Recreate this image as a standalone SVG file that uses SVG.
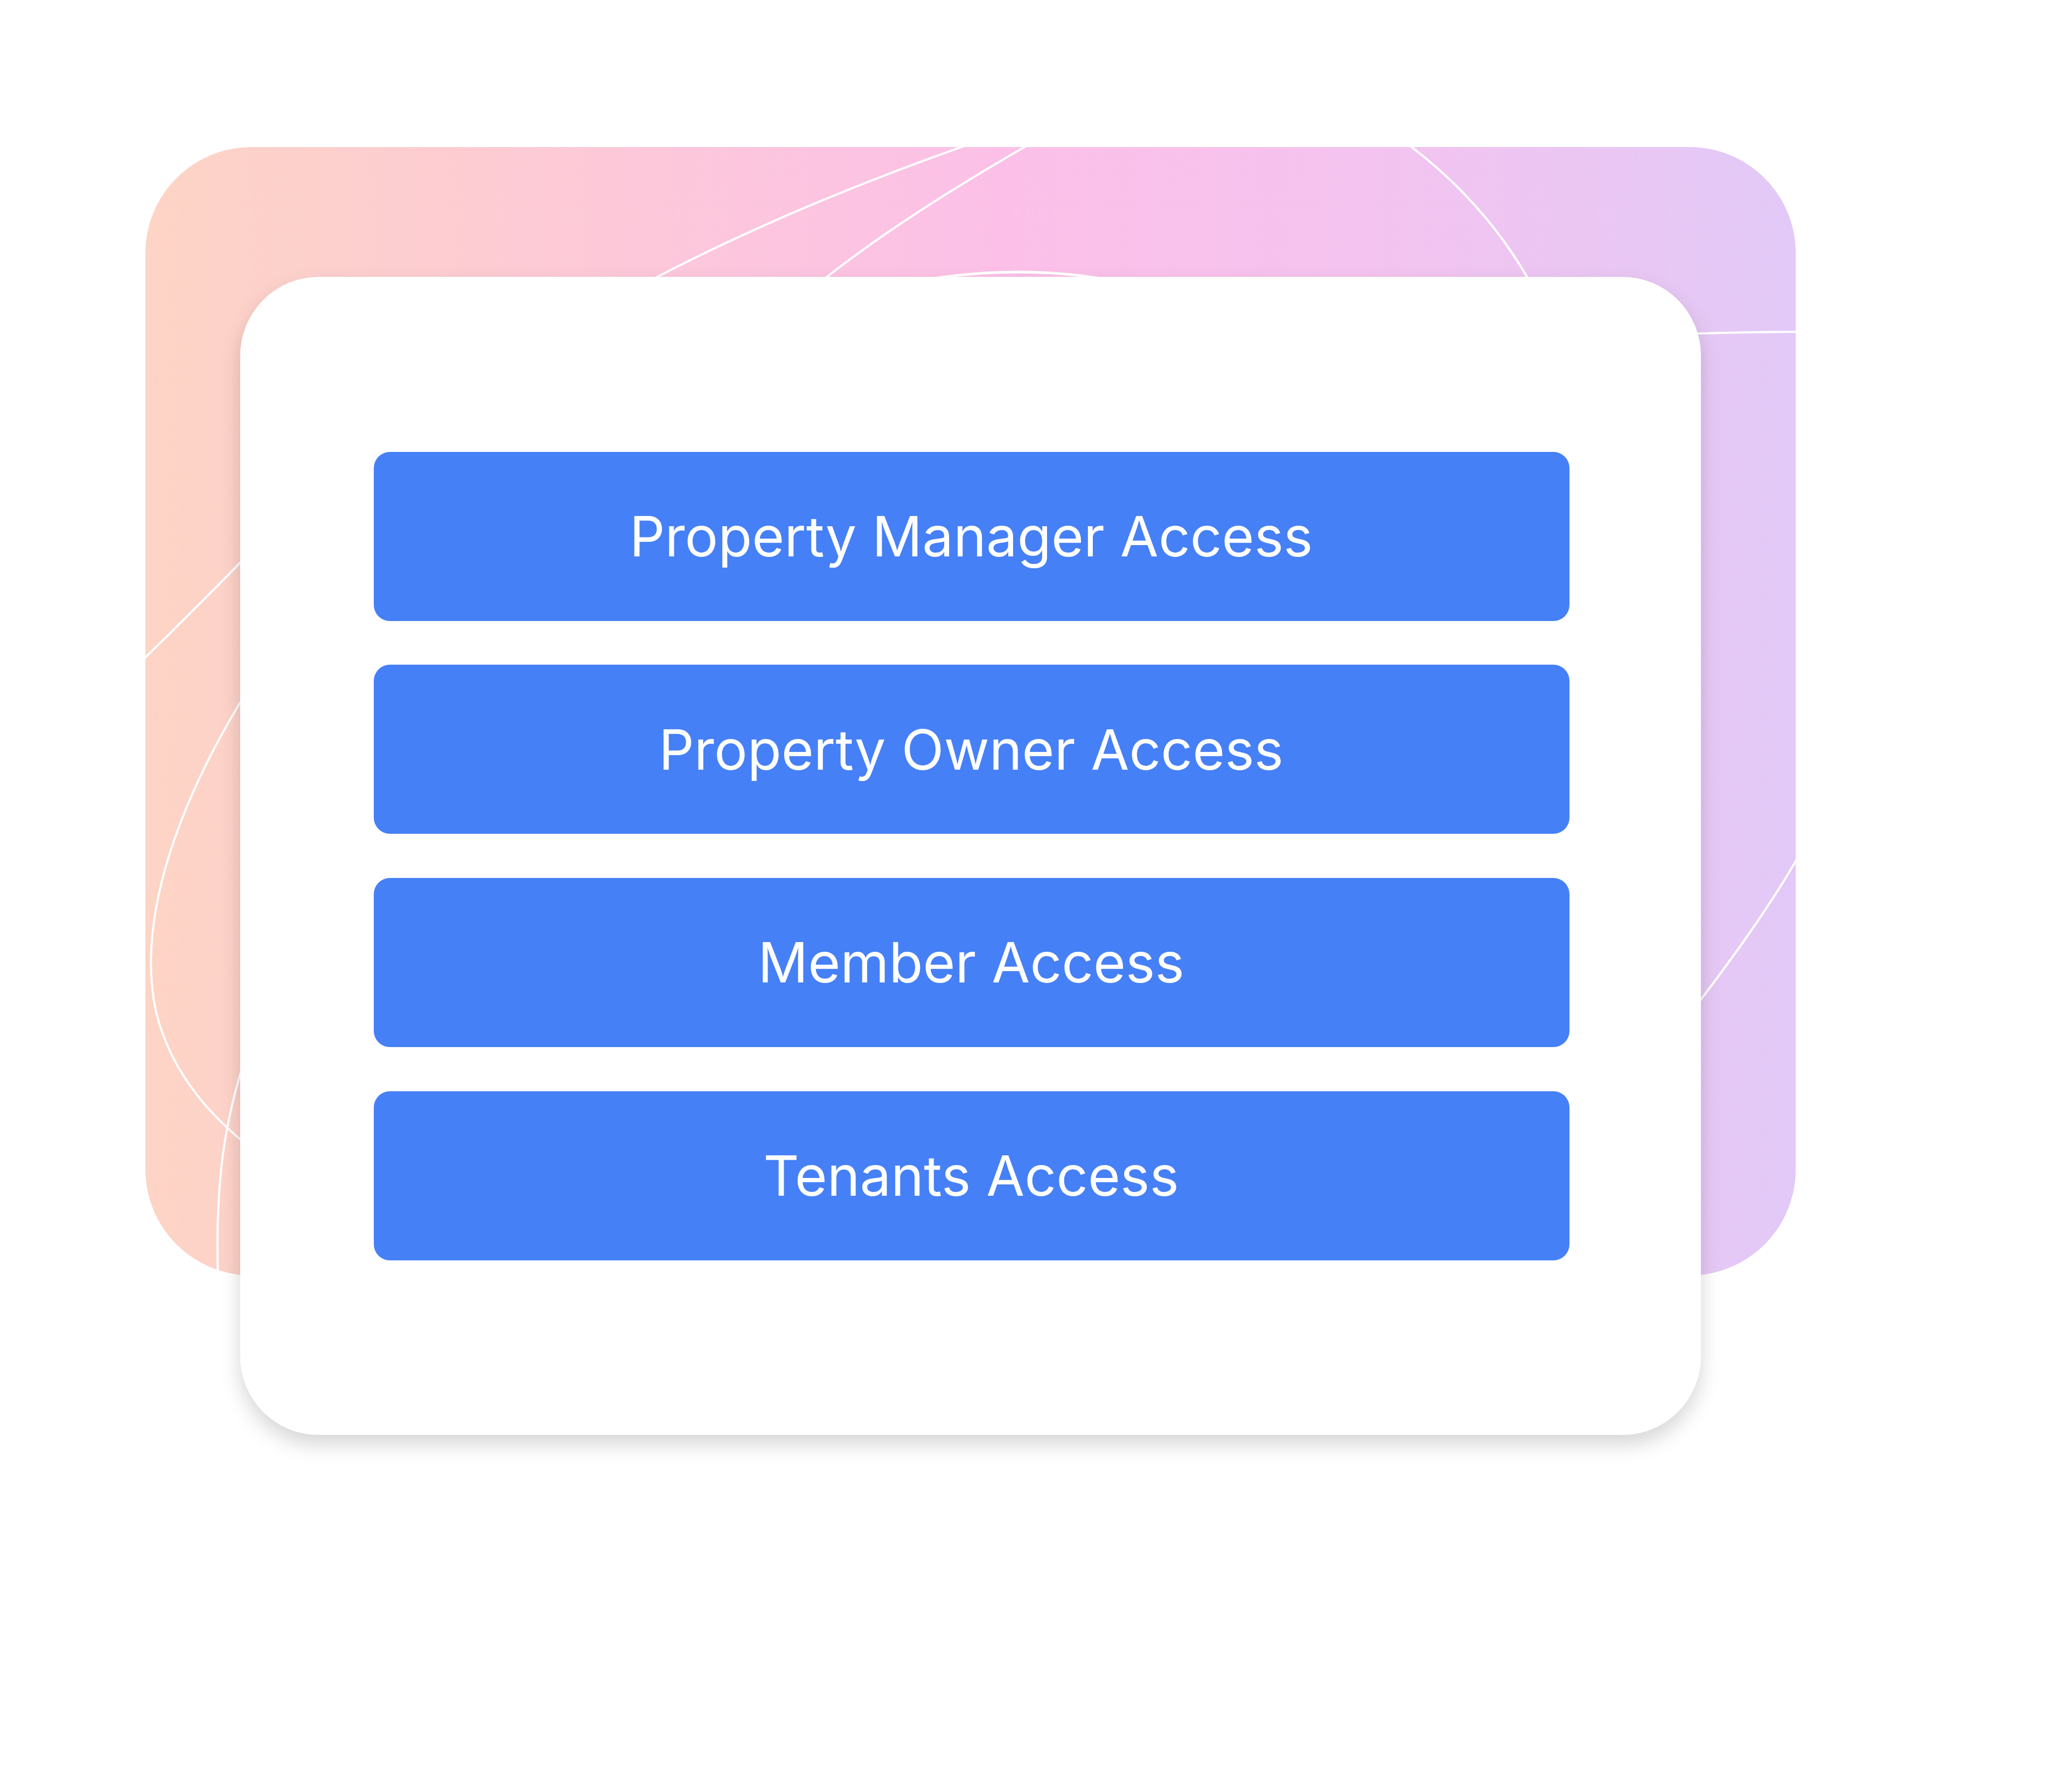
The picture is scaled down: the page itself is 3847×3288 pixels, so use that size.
<svg xmlns="http://www.w3.org/2000/svg" width="3847" height="3288" viewBox="0 0 3847 3288">
  <defs>
    <linearGradient id="bgGrad" x1="270" y1="0" x2="3334" y2="0" gradientUnits="userSpaceOnUse">
      <stop offset="0" stop-color="#FDD4C5"/>
      <stop offset="0.25" stop-color="#FDCAD6"/>
      <stop offset="0.52" stop-color="#FCC0E8"/>
      <stop offset="0.74" stop-color="#F4C3EF"/>
      <stop offset="1" stop-color="#E2C9F7"/>
    </linearGradient>
    <clipPath id="bgClip">
      <rect x="270" y="273" width="3064" height="2095" rx="197" ry="197"/>
    </clipPath>
    <filter id="cardShadow" x="-10%" y="-10%" width="120%" height="125%">
      <feDropShadow dx="0" dy="18" stdDeviation="18" flood-color="#000000" flood-opacity="0.16"/>
    </filter>
    <style>
      .swirl { fill: none; stroke: #FFFFFF; stroke-width: 4; stroke-linecap: round; }
      .bar { fill: #4680F6; }
      .label { font-family: Inter, "Noto Sans", "Liberation Sans", sans-serif; font-size: 103px; fill: #FFFFFF; text-anchor: middle; }
    </style>
  </defs>

  <rect x="0" y="0" width="3847" height="3288" fill="#FFFFFF"/>

  <g id="background">
    <rect x="270" y="273" width="3064" height="2095" rx="197" ry="197" fill="url(#bgGrad)"/>
    <g clip-path="url(#bgClip)">
      <path class="swirl" d="M 1100 580 Q 1420 395 1880 240"/>
      <path class="swirl" d="M 1480 560 Q 1640 420 1960 240"/>
      <path class="swirl" style="stroke-width:5" d="M 1660 530 Q 1897 480 2110 530"/>
      <path class="swirl" d="M 2560 230 Q 2760 360 2860 560"/>
      <path class="swirl" d="M 3100 621 Q 3200 617 3345 616"/>
      <path class="swirl" d="M 3350 1570 Q 3280 1700 3120 1905"/>
      <path class="swirl" d="M 250 1240 Q 360 1133 470 1020"/>
      <path class="swirl" d="M 446 1304 C 340 1480 250 1700 290 1880 C 320 2000 400 2080 470 2135"/>
      <path class="swirl" d="M 470 1920 C 420 2060 398 2180 405 2380"/>
    </g>
  </g>

  <g id="card">
    <rect x="446" y="514" width="2712" height="2150" rx="146" ry="146" fill="#FFFFFF" filter="url(#cardShadow)"/>
  </g>

  <g id="connectors"></g>

  <g id="node-property-manager">
    <rect class="bar" x="694" y="839" width="2220" height="314" rx="30" ry="30"/>
    <text class="label" x="1803" y="1033">Property Manager Access</text>
  </g>
  <g id="node-property-owner">
    <rect class="bar" x="694" y="1234" width="2220" height="314" rx="30" ry="30"/>
    <text class="label" x="1803" y="1429">Property Owner Access</text>
  </g>
  <g id="node-member">
    <rect class="bar" x="694" y="1630" width="2220" height="314" rx="30" ry="30"/>
    <text class="label" x="1803" y="1824">Member Access</text>
  </g>
  <g id="node-tenants">
    <rect class="bar" x="694" y="2026" width="2220" height="314" rx="30" ry="30"/>
    <text class="label" x="1803" y="2220">Tenants Access</text>
  </g>
</svg>
